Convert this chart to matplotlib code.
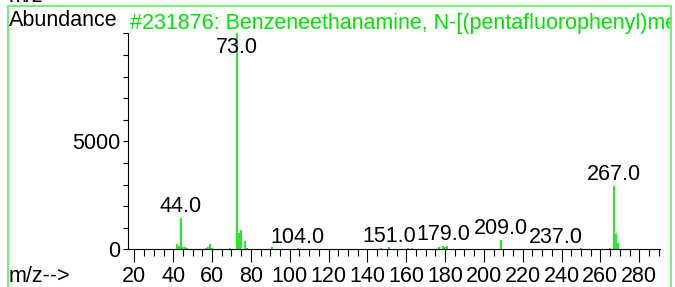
import matplotlib
matplotlib.use("Agg")
import matplotlib.pyplot as plt
from matplotlib.patches import Rectangle
from matplotlib.ticker import MultipleLocator

# spectrum (m/z, abundance)
mz = [42, 43, 44, 45, 46, 47, 50, 57, 58, 59, 60, 69, 71, 73, 74, 75, 77, 78,
      91, 95, 104, 117, 132, 135, 147, 151, 161, 163, 177, 179, 180, 181,
      189, 191, 193, 209, 223, 237, 250, 265, 267, 268, 269]
abund = [230, 170, 1460, 120, 100, 60, 20, 50, 90, 230, 60, 40, 30, 10000, 740, 890, 380, 40,
         90, 20, 40, 20, 20, 20, 60, 90, 40, 40, 120, 160, 110, 150,
         20, 30, 30, 430, 20, 30, 40, 70, 2930, 710, 300]
labelled = [44, 73, 104, 151, 179, 209, 237, 267]

title = "#231876: Benzeneethanamine, N-[(pentafluorophenyl)methylene]-"
green = "#00e400"
frame_green = "#77ee77"

plt.rcParams["font.family"] = ["Liberation Sans", "DejaVu Sans"]
plt.rcParams["font.size"] = 15.5

fig = plt.figure(figsize=(6.75, 2.87), dpi=100)
ax = fig.add_axes([128 / 675, 1 - 249.3 / 287, 532 / 675, 216 / 287])

ax.vlines(mz, 0, abund, color=green, lw=1.2)
ax.set_xlim(16.7, 290.7)
ax.set_ylim(0, 10000)

top = ax.get_ylim()[1]
for m in labelled:
    h = abund[mz.index(m)]
    if h > 0.9 * top:
        ax.text(m, 0.909 * top, f"{m:.1f}", ha="center", va="baseline")
    else:
        ax.annotate(f"{m:.1f}", (m, h), xytext=(0, 4), textcoords="offset points",
                    ha="center", va="baseline")

for s in ["top", "right"]:
    ax.spines[s].set_visible(False)
for s in ["left", "bottom"]:
    ax.spines[s].set_linewidth(0.8)

ax.xaxis.set_minor_locator(MultipleLocator(5))
ax.set_xticks(range(20, 281, 20))
ax.tick_params(axis="x", which="major", direction="out", length=9, width=0.8, pad=3)
ax.tick_params(axis="x", which="minor", direction="out", length=5, width=0.8)
ax.set_yticks([0, 5000])
ax.yaxis.set_minor_locator(MultipleLocator(1000))
ax.tick_params(axis="y", which="both", direction="out", length=3.5, width=0.8, pad=2)

# outer frame and header texts
frame = Rectangle((7.7 / 675, -0.1), (671 - 7.7) / 675, 1.1 - 6.3 / 287,
                  transform=fig.transFigure, fill=False, edgecolor=frame_green, lw=1.5)
fig.add_artist(frame)
fig.text(9 / 675, 1 - 2.5 / 287, "m/z-->", va="baseline")
fig.text(8.5 / 675, 1 - 26 / 287, "Abundance", va="baseline")
t = fig.text(130 / 675, 1 - 29.3 / 287, title, color=green, va="baseline")
clip = Rectangle((0, 0), 670 / 675, 1, transform=fig.transFigure)
t.set_clip_path(clip)
fig.text(8.5 / 675, 5 / 287, "m/z-->", va="baseline")

fig.savefig("out.png", dpi=100)
